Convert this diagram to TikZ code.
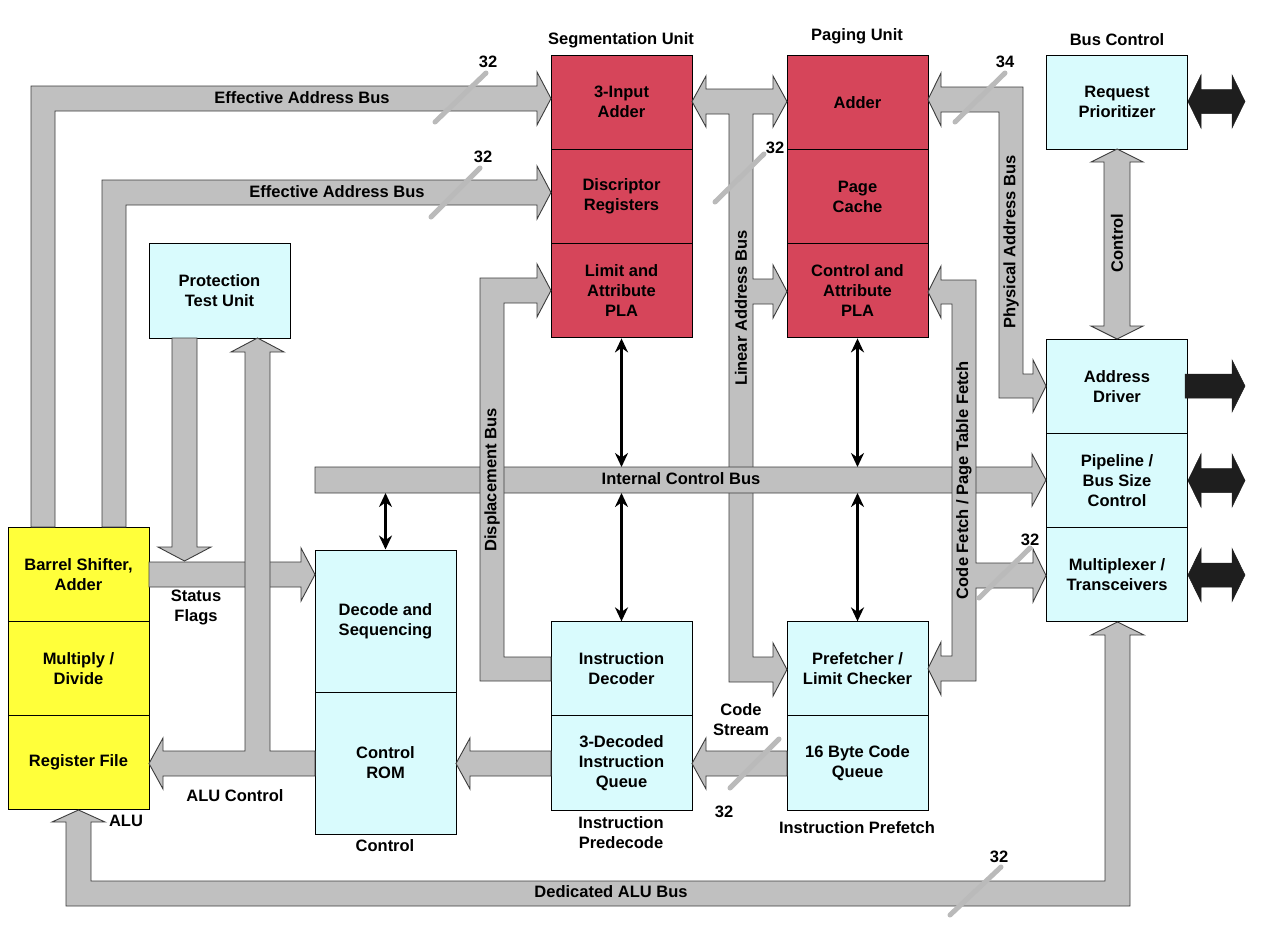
\documentclass[tikz,border=0pt]{standalone}
\usepackage{fontspec}
\setmainfont{Liberation Sans}
\usetikzlibrary{arrows.meta}
\definecolor{segred}{RGB}{214,69,90}
\definecolor{lcyan}{RGB}{217,251,253}
\definecolor{ayellow}{RGB}{255,255,58}
\definecolor{busgray}{RGB}{192,192,192}
\definecolor{busedge}{RGB}{60,60,60}
\definecolor{slashgray}{RGB}{186,186,186}
\definecolor{blk}{RGB}{30,30,30}
\begin{document}
\begin{tikzpicture}[x=1pt,y=-1pt,
  lbl/.style={font=\fontsize{16.5}{20}\selectfont\bfseries, align=center, inner sep=0pt},
  box/.style={lbl, draw=black, line width=1pt, minimum width=141pt, minimum height=94.3pt},
  bus/.style={fill=busgray, draw=busedge, line width=0.9pt, line join=miter},
  blkarrow/.style={fill=blk, draw=blk, line width=0.5pt, line join=miter},
  dbl/.style={{Stealth[length=14pt,width=13pt]}-{Stealth[length=14pt,width=13pt]}, line width=2.8pt, black},
  slash/.style={draw=slashgray, line width=5pt, line cap=round},
]
\useasboundingbox (0,0) rectangle (1267,937);
\fill[white] (0,0) rectangle (1267,937);

% ---------- boxes ----------
\node[box, fill=segred] (seg1) at (621.5,102.15) {3-Input\\Adder};
\node[box, fill=segred] (seg2) at (621.5,196.45) {Discriptor\\Registers};
\node[box, fill=segred] (seg3) at (621.5,290.75) {Limit and\\Attribute\\PLA};
\node[box, fill=segred] (pg1) at (857.5,102.15) {Adder};
\node[box, fill=segred] (pg2) at (857.5,196.45) {Page\\Cache};
\node[box, fill=segred] (pg3) at (857.5,290.75) {Control and\\Attribute\\PLA};
\node[box, fill=lcyan] (rp) at (1117,102.15) {Request\\Prioritizer};
\node[box, fill=lcyan] (ad) at (1117,386.15) {Address\\Driver};
\node[box, fill=lcyan] (pl) at (1117,480.45) {Pipeline /\\Bus Size\\Control};
\node[box, fill=lcyan] (mx) at (1117,574.75) {Multiplexer /\\Transceivers};
\node[box, fill=lcyan] (ptu) at (219.5,291) {Protection\\Test Unit};
\node[box, fill=ayellow] (alu1) at (78.5,574.15) {Barrel Shifter,\\Adder};
\node[box, fill=ayellow] (alu2) at (78.5,668.45) {Multiply /\\Divide};
\node[box, fill=ayellow] (alu3) at (78.5,762.75) {Register File};
\node[box, fill=lcyan, minimum height=142pt] (dec) at (385.5,621) {Decode and\\Sequencing};
\node[box, fill=lcyan, minimum height=142pt] (rom) at (385.5,763) {Control\\ROM};
\node[box, fill=lcyan] (idec) at (621.5,669) {Instruction\\Decoder};
\node[box, fill=lcyan] (iq) at (621.5,763) {3-Decoded\\Instruction\\Queue};
\node[box, fill=lcyan] (pf) at (857.5,669) {Prefetcher /\\Limit Checker};
\node[box, fill=lcyan] (cq) at (857.5,763) {16 Byte Code\\Queue};

% ---------- buses ----------
% Effective Address Bus (top)
\draw[bus] (31,527) -- (31,86) -- (537,86) -- (537,72) -- (551,98.5) -- (537,125) -- (537,111) -- (55,111) -- (55,527) -- cycle;
% Effective Address Bus (second)
\draw[bus] (102,527) -- (102,180) -- (537,180) -- (537,166) -- (551,192.5) -- (537,219) -- (537,205) -- (126,205) -- (126,527) -- cycle;
% Status flags
\draw[bus] (149,562) -- (301,562) -- (301,548) -- (315,574.5) -- (301,601) -- (301,587) -- (149,587) -- cycle;
% Protection test unit down
\draw[bus] (172,338) -- (197,338) -- (197,547) -- (211,547) -- (184.5,561) -- (158,547) -- (172,547) -- cycle;
% ALU control + up to protection
\draw[bus] (315,751) -- (270,751) -- (270,352) -- (284,352) -- (257.5,338) -- (231,352) -- (245,352) -- (245,751) -- (163,751) -- (163,738) -- (149,763.5) -- (163,789) -- (163,776) -- (315,776) -- cycle;
% Dedicated ALU bus
\draw[bus] (1105,635) -- (1091,635) -- (1117.5,622) -- (1144,635) -- (1130,635) -- (1130,906) -- (66,906) -- (66,822) -- (52,822) -- (78.5,810) -- (105,822) -- (91,822) -- (91,881) -- (1105,881) -- cycle;
% 3-decoded queue -> control ROM
\draw[bus] (551,751) -- (470,751) -- (470,738) -- (456,763.5) -- (470,789) -- (470,776) -- (551,776) -- cycle;
% code queue -> 3-decoded queue
\draw[bus] (787,751) -- (706,751) -- (706,738) -- (692,763.5) -- (706,789) -- (706,776) -- (787,776) -- cycle;
% Linear address bus
\draw[bus] (706,89) -- (773,89) -- (773,76) -- (787,101.5) -- (773,127) -- (773,114) -- (753,114) -- (753,279) -- (773,279) -- (773,265) -- (787,291.5) -- (773,318) -- (773,304) -- (753,304) -- (753,657) -- (773,657) -- (773,643) -- (787,669.5) -- (773,696) -- (773,682) -- (729,682) -- (729,114) -- (706,114) -- (706,127) -- (692,101.5) -- (706,76) -- cycle;
% Internal control bus
\draw[bus] (315,467) -- (1032,467) -- (1032,454) -- (1046,480) -- (1032,506) -- (1032,493) -- (315,493) -- cycle;
% Displacement bus
\draw[bus] (551,657) -- (504,657) -- (504,303) -- (537,303) -- (537,317) -- (551,290.5) -- (537,264) -- (537,278) -- (480,278) -- (480,681) -- (551,681) -- cycle;
% Code fetch / page table fetch
\draw[bus] (941,280) -- (976,280) -- (976,563) -- (1033,563) -- (1033,549) -- (1046,575.5) -- (1033,602) -- (1033,588) -- (976,588) -- (976,681) -- (941,681) -- (941,695) -- (928,668.5) -- (941,642) -- (941,656) -- (952,656) -- (952,304) -- (941,304) -- (941,318) -- (928,292) -- (941,266) -- cycle;
% Physical address bus
\draw[bus] (941,87) -- (1023,87) -- (1023,374) -- (1033,374) -- (1033,360) -- (1046,386) -- (1033,412) -- (1033,398) -- (999,398) -- (999,112) -- (941,112) -- (941,126) -- (928,99.5) -- (941,73) -- cycle;
% Control (bus control)
\draw[bus] (1104,162) -- (1091,162) -- (1117,149) -- (1143,162) -- (1130,162) -- (1130,326) -- (1143,326) -- (1117,339) -- (1091,326) -- (1104,326) -- cycle;

% ---------- external black arrows ----------
\draw[blkarrow] (1188,101.5) -- (1201,75) -- (1201,89.5) -- (1232,89.5) -- (1232,75) -- (1245,101.5) -- (1232,128) -- (1232,113.5) -- (1201,113.5) -- (1201,128) -- cycle;
\draw[blkarrow] (1185,374) -- (1232,374) -- (1232,360) -- (1245,386) -- (1232,412) -- (1232,398) -- (1185,398) -- cycle;
\draw[blkarrow] (1188,480.5) -- (1201,454) -- (1201,468.5) -- (1232,468.5) -- (1232,454) -- (1245,480.5) -- (1232,507) -- (1232,492.5) -- (1201,492.5) -- (1201,507) -- cycle;
\draw[blkarrow] (1188,575) -- (1201,548.5) -- (1201,563) -- (1232,563) -- (1232,548.5) -- (1245,575) -- (1232,601.5) -- (1232,587) -- (1201,587) -- (1201,601.5) -- cycle;

% ---------- thin control arrows ----------
\coordinate (icbT) at (681,467);
\coordinate (icbB) at (681,493);
\draw[dbl] (seg3.south) -- (seg3.south |- icbT);
\draw[dbl] (idec.north |- icbB) -- (idec.north);
\draw[dbl] (pg3.south) -- (pg3.south |- icbT);
\draw[dbl] (pf.north |- icbB) -- (pf.north);
\draw[dbl] (dec.north |- icbB) -- (dec.north);

% ---------- width slashes ----------
\draw[slash] (435,122) -- (486,73);
\draw[slash] (431,217) -- (480,168);
\draw[slash] (715,202) -- (764,154);
\draw[slash] (955,122) -- (1005,73);
\draw[slash] (979,598) -- (1030,548);
\draw[slash] (730,788) -- (779,739);
\draw[slash] (950,915) -- (1001,867);

% ---------- labels ----------
\node[lbl] (tseg) at (621,40) {Segmentation Unit};
\node[lbl] (tpag) at (857,36) {Paging Unit};
\node[lbl] (tbc) at (1117,40) {Bus Control};
\node[lbl] (teab1) at (302,98) {Effective Address Bus};
\node[lbl] (teab2) at (337,192) {Effective Address Bus};
\node[lbl] (n1) at (488,62) {32};
\node[lbl] (n2) at (483,157) {32};
\node[lbl] (n3) at (775,148) {32};
\node[lbl] (n4) at (1005,62) {34};
\node[lbl] (n5) at (1030,540) {32};
\node[lbl] (n6) at (724,812) {32};
\node[lbl] (n7) at (999,857) {32};
\node[lbl] (ticb) at (681,479) {Internal Control Bus};
\node[lbl] (tsf) at (196,607) {Status\\Flags};
\node[lbl] (taluc) at (235,796) {ALU Control};
\node[lbl] (talu) at (126,821) {ALU};
\node[lbl] (tctl) at (385,846) {Control};
\node[lbl] (tipd) at (621,833) {Instruction\\Predecode};
\node[lbl] (tcs) at (741,720) {Code\\Stream};
\node[lbl] (tipf) at (857,828) {Instruction Prefetch};
\node[lbl] (tdab) at (611,892) {Dedicated ALU Bus};
\node[lbl, rotate=90] (tdisp) at (492,480) {Displacement Bus};
\node[lbl, rotate=90] (tlin) at (741,308) {Linear Address Bus};
\node[lbl, rotate=90] (tphys) at (1011,242) {Physical Address Bus};
\node[lbl, rotate=90] (tbctl) at (1117,243) {Control};
\node[lbl, rotate=90] (tcf) at (964,480) {Code Fetch / Page Table Fetch};
\end{tikzpicture}
\end{document}
